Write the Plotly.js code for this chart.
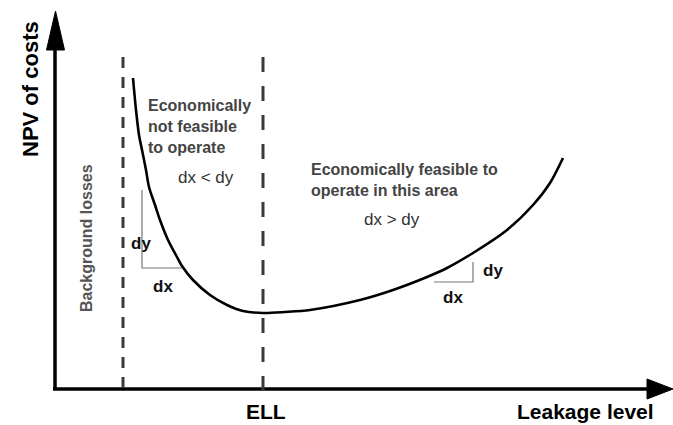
<!DOCTYPE html>
<html><head><meta charset="utf-8">
<script src="https://cdn.plot.ly/plotly-3.0.1.min.js"></script>
<style>html,body{margin:0;padding:0;background:#fff}</style>
</head><body>
<div id="chart" style="width:673px;height:425px"></div>
<script>
// Conceptual cost curve (canvas units: x = leakage level, y = NPV of costs, downward)
var curveX = [133, 136, 139, 142, 146, 149, 155, 160, 168, 177, 182, 193, 210, 227, 243, 263, 285, 310, 360, 393, 427, 447, 473, 507, 533, 550, 563];
var curveY = [78, 110, 135, 150, 170, 187, 205, 220, 240, 257, 266, 280, 295, 305, 311, 313, 312, 310, 300, 290, 277, 268, 253, 230, 205, 183, 158];
var bgLossX = 123;   // background losses boundary
var ellX = 263;      // economic leakage level
var labels = {
  yTitle: "NPV of costs",
  xTitle: "Leakage level",
  ell: "ELL",
  bg: "Background losses",
  left: "Economically<br>not feasible<br>to operate",
  leftIneq: "dx &lt; dy",
  right: "Economically feasible to<br>operate in this area",
  rightIneq: "dx &gt; dy"
};

var F = "Liberation Sans, Arial, sans-serif";
var trace = {
  x: curveX, y: curveY, mode: "lines", type: "scatter",
  line: {color: "#000", width: 2.6, shape: "spline", smoothing: 0.8},
  hoverinfo: "skip", showlegend: false
};
var shapes = [
  // axes
  {type: "line", x0: 55, x1: 55, y0: 389, y1: 45, line: {color: "#000", width: 3.5}},
  {type: "line", x0: 53, x1: 650, y0: 389, y1: 389, line: {color: "#000", width: 3.5}},
  {type: "path", path: "M 46.5 50 L 64.5 50 L 55.5 11 Z", fillcolor: "#000", line: {color: "#000", width: 1}},
  {type: "path", path: "M 647 379 L 647 399 L 673 389 Z", fillcolor: "#000", line: {color: "#000", width: 1}},
  // dashed verticals
  {type: "line", x0: bgLossX, x1: bgLossX, y0: 57, y1: 389, line: {color: "#3a3a3a", width: 3, dash: "11px,9px"}},
  {type: "line", x0: ellX, x1: ellX, y0: 57, y1: 397, line: {color: "#3a3a3a", width: 3, dash: "15px,14px"}},
  // slope brackets
  {type: "path", path: "M 142 190 L 142 268 L 182 268", line: {color: "#777", width: 1.2}},
  {type: "path", path: "M 473 262 L 473 282 L 434 282", line: {color: "#777", width: 1.2}}
];
function ann(text, x, y, o) {
  return Object.assign({text: text, x: x, y: y, xref: "x", yref: "y", showarrow: false,
    font: {family: F, size: 16, color: "#333"}}, o || {});
}
var annotations = [
  ann("<b>" + labels.yTitle + "</b>", 30, 89, {textangle: -90, font: {family: F, size: 22, color: "#000"}}),
  ann("<b>" + labels.bg + "</b>", 86, 238, {textangle: -90, font: {family: F, size: 16, color: "#555"}}),
  ann("<b>" + labels.left + "</b>", 146, 126, {xanchor: "left", align: "left", font: {family: F, size: 16, color: "#444"}}),
  ann(labels.leftIneq, 206, 177, {font: {family: F, size: 17, color: "#333"}}),
  ann("<b>" + labels.right + "</b>", 309, 180, {xanchor: "left", align: "left", font: {family: F, size: 16, color: "#444"}}),
  ann(labels.rightIneq, 392, 219, {font: {family: F, size: 17, color: "#333"}}),
  ann("<b>dy</b>", 141, 243, {font: {family: F, size: 17, color: "#111"}}),
  ann("<b>dx</b>", 163, 286, {font: {family: F, size: 17, color: "#111"}}),
  ann("<b>dy</b>", 493, 270, {font: {family: F, size: 17, color: "#111"}}),
  ann("<b>dx</b>", 453, 297, {font: {family: F, size: 17, color: "#111"}}),
  ann("<b>" + labels.ell + "</b>", 266, 411, {font: {family: F, size: 21, color: "#000"}}),
  ann("<b>" + labels.xTitle + "</b>", 656, 411, {xanchor: "right", font: {family: F, size: 21, color: "#000"}})
];
var layout = {
  width: 673, height: 425,
  margin: {l: 0, r: 0, t: 0, b: 0},
  paper_bgcolor: "#fff", plot_bgcolor: "#fff",
  xaxis: {range: [0, 673], visible: false, fixedrange: true},
  yaxis: {range: [425, 0], visible: false, fixedrange: true},
  shapes: shapes, annotations: annotations, showlegend: false
};
Plotly.newPlot("chart", [trace], layout, {displayModeBar: false, staticPlot: true});
</script>
</body></html>
